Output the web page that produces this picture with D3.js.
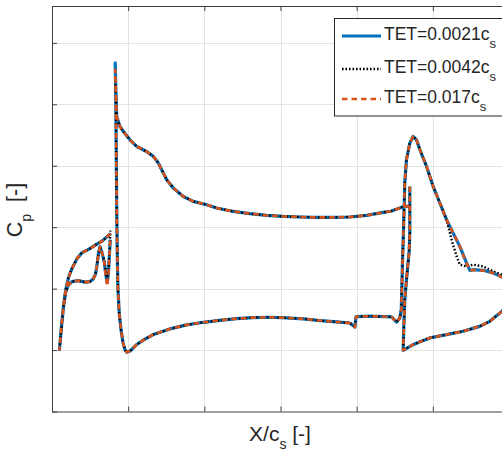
<!DOCTYPE html>
<html>
<head>
<meta charset="utf-8">
<script src="https://cdn.jsdelivr.net/npm/d3@7"></script>
<style>
  body { margin: 0; background: #fff; }
  text { font-family: "Liberation Sans", Arial, sans-serif; fill: #262626; }
</style>
</head>
<body>
<svg id="chart" width="502" height="452"></svg>
<script>
// tick positions (no tick labels are shown on the figure)
const xTicks = [0, 0.5, 1, 1.5, 2, 2.5, 3];
const yTicks = [-1.5, -1, -0.5, 0, 0.5, 1, 1.5];

const seriesNames = ["TET=0.0021", "TET=0.0042", "TET=0.017"];

// front element (shared by all three runs)
const frontX = [0.384, 0.354, 0.328, 0.289, 0.243, 0.197, 0.164, 0.131, 0.108, 0.089, 0.075, 0.062, 0.049,
  0.062, 0.075, 0.089, 0.105, 0.131, 0.171, 0.217, 0.249, 0.269, 0.285, 0.295, 0.305, 0.315];
const frontCp = [0.053, 0.085, 0.114, 0.142, 0.179, 0.207, 0.256, 0.337, 0.411, 0.516, 0.646, 0.809, 0.996,
  0.817, 0.654, 0.533, 0.476, 0.443, 0.435, 0.447, 0.443, 0.423, 0.386, 0.313, 0.215, 0.159];

// front element trailing edge dip, differs per run
const dipX = [0.328, 0.344, 0.354, 0.363, 0.371, 0.377, 0.383];
const dipCp21 = [0.207, 0.289, 0.394, 0.450, 0.362, 0.224, 0.102];
const dipCp42 = [0.200, 0.280, 0.370, 0.425, 0.340, 0.200, 0.028];
const dipCp17 = [0.207, 0.295, 0.410, 0.480, 0.380, 0.230, 0.100];

// main element suction side, from trailing edge back towards the peak
const mainUpX = [2.346, 2.305, 2.283, 2.224, 2.174, 2.065, 1.955, 1.846, 1.737, 1.627, 1.518, 1.409, 1.299,
  1.190, 1.081, 1.015, 0.927, 0.862, 0.796, 0.753, 0.720, 0.698, 0.665, 0.621, 0.556, 0.512, 0.468, 0.446,
  0.425, 0.420];
const mainUpCp = [-0.171, -0.167, -0.156, -0.130, -0.120, -0.096, -0.083, -0.080, -0.080, -0.083, -0.088,
  -0.096, -0.110, -0.128, -0.156, -0.183, -0.210, -0.250, -0.319, -0.386, -0.467, -0.522, -0.576, -0.616,
  -0.657, -0.711, -0.779, -0.820, -0.901, -1.077];

// suction peak of the main element
const peakX = 0.415;
const peakCp = [-1.337, -1.199, -1.280];

// leading edge, pressure side, then the rear element suction side
const mainLoX = [0.419, 0.422, 0.425, 0.428, 0.433, 0.442, 0.453, 0.466, 0.479, 0.490, 0.512, 0.556, 0.610,
  0.665, 0.774, 0.884, 0.993, 1.102, 1.212, 1.321, 1.430, 1.540, 1.649, 1.759, 1.868, 1.955, 1.977, 1.988,
  1.996, 2.087, 2.229, 2.262, 2.283, 2.293, 2.300, 2.310, 2.316, 2.327, 2.349, 2.371, 2.393, 2.415, 2.459,
  2.502, 2.546, 2.590];
const mainLoCp = [-1.037, -0.549, -0.142, 0.183, 0.508, 0.711, 0.833, 0.939, 0.996, 1.018, 1.008, 0.955,
  0.911, 0.874, 0.828, 0.795, 0.774, 0.758, 0.744, 0.736, 0.733, 0.738, 0.746, 0.760, 0.771, 0.780, 0.801,
  0.813, 0.728, 0.724, 0.730, 0.772, 0.740, 0.671, 0.321, -0.085, -0.362, -0.549, -0.685, -0.738, -0.711,
  -0.630, -0.494, -0.332, -0.197, -0.061];

// rear element trailing part, differs per run
const tailX21 = [2.633, 2.677, 2.721, 2.743, 2.764, 2.830, 2.896, 2.953, 3.038];
const tailCp21 = [0.047, 0.156, 0.291, 0.351, 0.346, 0.351, 0.372, 0.405, 0.443];
const tailX42 = [2.623, 2.656, 2.677, 2.721, 2.764, 2.830, 2.896, 2.953, 3.038];
const tailCp42 = [0.102, 0.237, 0.305, 0.319, 0.305, 0.319, 0.359, 0.386, 0.419];
const tailX17 = [2.633, 2.677, 2.721, 2.743, 2.764, 2.830, 2.896, 2.953, 3.038];
const tailCp17 = [0.047, 0.156, 0.291, 0.353, 0.348, 0.353, 0.373, 0.406, 0.444];

// rear element leading edge and pressure side
const aftX = [2.349, 2.349, 2.344, 2.327, 2.316, 2.310, 2.305, 2.371, 2.480, 2.590, 2.699, 2.808, 2.874,
  2.928, 2.953, 3.005];
const aftCp = [-0.329, 0.045, 0.207, 0.427, 0.589, 0.793, 1.002, 0.955, 0.901, 0.874, 0.847, 0.807, 0.766,
  0.711, 0.685, 0.614];

const zip = (xs, ys) => xs.map((v, i) => [v, ys[i]]);

const dips = [dipCp21, dipCp42, dipCp17];
const tails = [[tailX21, tailCp21], [tailX42, tailCp42], [tailX17, tailCp17]];

const runs = seriesNames.map((name, i) => ({
  name: name,
  segments: [
    zip(frontX, frontCp).concat(zip(dipX, dips[i])),
    zip(mainUpX, mainUpCp).concat([[peakX, peakCp[i]]], zip(mainLoX, mainLoCp), zip(tails[i][0], tails[i][1])),
    zip(aftX, aftCp)
  ]
}));

const styles = [
  { color: "#0072BD", width: 3.2, dash: null },
  { color: "#000000", width: 2.4, dash: "1.6,1.9" },
  { color: "#D95319", width: 2.6, dash: "5.5,4" }
];

/**
 * Layout
 */
const plotLeft = 52, plotRight = 509, plotTop = 6, plotBottom = 411.5;

const svg = d3.select("#chart");

const x = d3.scaleLinear().domain([0, 3]).range([plotLeft, plotRight]);
const y = d3.scaleLinear().domain([-1.8, 1.5]).range([plotTop, plotBottom]);

// grid
const grid = svg.append("g");
grid.selectAll(".vg")
  .data(xTicks.slice(1, -1))
  .enter()
  .append("line")
  .attr("x1", d => Math.round(x(d)) + 0.5)
  .attr("x2", d => Math.round(x(d)) + 0.5)
  .attr("y1", plotTop)
  .attr("y2", plotBottom)
  .attr("stroke", "#e3e3e3")
  .attr("stroke-width", 1);
grid.selectAll(".hg")
  .data(yTicks.slice(0, -1))
  .enter()
  .append("line")
  .attr("y1", d => Math.round(y(d)) + 0.5)
  .attr("y2", d => Math.round(y(d)) + 0.5)
  .attr("x1", plotLeft)
  .attr("x2", plotRight)
  .attr("stroke", "#e3e3e3")
  .attr("stroke-width", 1);

/**
 * Curves
 */
svg.append("clipPath")
  .attr("id", "plotClip")
  .append("rect")
  .attr("x", plotLeft)
  .attr("y", plotTop)
  .attr("width", plotRight - plotLeft)
  .attr("height", plotBottom - plotTop);

const line = d3.line().x(d => x(d[0])).y(d => y(d[1]));

const curves = svg.append("g").attr("clip-path", "url(#plotClip)");
runs.forEach((run, i) => {
  curves.selectAll(".s" + i)
    .data(run.segments)
    .enter()
    .append("path")
    .attr("d", line)
    .attr("fill", "none")
    .attr("stroke", styles[i].color)
    .attr("stroke-width", styles[i].width)
    .attr("stroke-dasharray", styles[i].dash)
    .attr("stroke-linejoin", "round");
});

/**
 * Axes (ticks pointing inwards, no labels)
 */
const axisColor = "#404040";
const xAxisB = d3.axisBottom(x).tickValues(xTicks).tickSize(-5).tickSizeOuter(0).tickFormat("");
const xAxisT = d3.axisTop(x).tickValues(xTicks).tickSize(-5).tickSizeOuter(0).tickFormat("");
const yAxisL = d3.axisLeft(y).tickValues(yTicks).tickSize(-5).tickSizeOuter(0).tickFormat("");

[
  svg.append("g").attr("transform", `translate(0,${plotBottom})`).call(xAxisB),
  svg.append("g").attr("transform", `translate(0,${plotTop})`).call(xAxisT),
  svg.append("g").attr("transform", `translate(${plotLeft},0)`).call(yAxisL)
].forEach(g => {
  g.selectAll("path, line").attr("stroke", axisColor).attr("stroke-width", 1);
});

/**
 * Axis labels
 */
const xLabel = svg.append("text")
  .attr("x", 280)
  .attr("y", 441)
  .attr("text-anchor", "middle")
  .attr("font-size", 21);
xLabel.append("tspan").text("X/c");
xLabel.append("tspan").attr("dy", 7.5).attr("font-size", 14).text("s");
xLabel.append("tspan").attr("dy", -7.5).text("\u00a0[-]");

const yLabel = svg.append("text")
  .attr("transform", "translate(22,210) rotate(-90)")
  .attr("text-anchor", "middle")
  .attr("font-size", 21.5);
yLabel.append("tspan").text("C");
yLabel.append("tspan").attr("dy", 9).attr("font-size", 14).text("p");
yLabel.append("tspan").attr("dy", -9).text("\u00a0\u00a0[-]");

/**
 * Legend
 */
const legend = svg.append("g");
legend.append("rect")
  .attr("x", 334.5)
  .attr("y", 18.5)
  .attr("width", 200)
  .attr("height", 97.5)
  .attr("fill", "#fff")
  .attr("stroke", "#262626")
  .attr("stroke-width", 1);

const rowY = [36, 69, 99];
const rows = legend.selectAll(".row")
  .data(runs)
  .enter()
  .append("g")
  .attr("transform", (d, i) => `translate(0,${rowY[i]})`);

rows.append("line")
  .attr("x1", 342)
  .attr("x2", 381)
  .attr("stroke", (d, i) => styles[i].color)
  .attr("stroke-width", (d, i) => styles[i].width)
  .attr("stroke-dasharray", (d, i) => styles[i].dash);

const labels = rows.append("text")
  .attr("x", 384)
  .attr("y", 3.5)
  .attr("font-size", 17.5)
  .attr("fill", "#000");
labels.append("tspan").text(d => d.name + "c");
labels.append("tspan").attr("dy", 8).attr("font-size", 13).text("s");
</script>
</body>
</html>
